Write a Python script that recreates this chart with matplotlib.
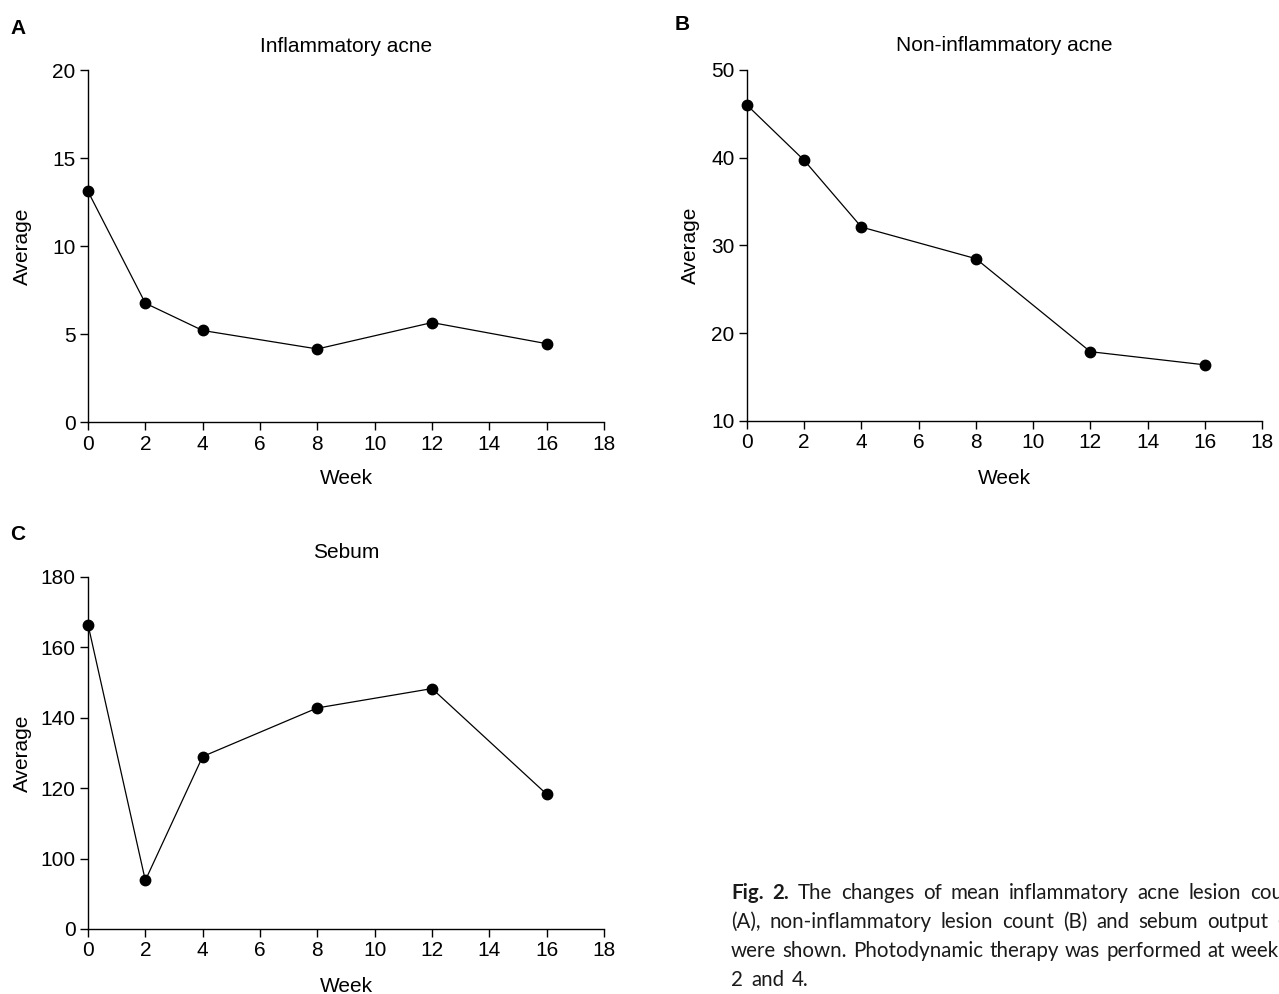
import numpy as np
import matplotlib
matplotlib.use("Agg")
import matplotlib.pyplot as plt

plt.rcParams['font.family'] = ['Liberation Sans', 'DejaVu Sans']

weeks = [0, 2, 4, 8, 12, 16]
inflammatory = [13.1, 6.75, 5.2, 4.15, 5.65, 4.45]
non_inflammatory = [46.0, 39.7, 32.1, 28.5, 17.9, 16.4]
sebum = [166.5, 93.8, 129.0, 142.8, 148.3, 118.3]

x_ticks = list(range(0, 20, 2))
a_yticks = [0, 5, 10, 15, 20]
b_yticks = [10, 20, 30, 40, 50]
c_yticks = [0, 100, 120, 140, 160, 180]

W, H = 1279, 994
fig = plt.figure(figsize=(W / 100, H / 100), dpi=100)
FS = 15

def style(ax, title, yticks, ylim, ylab_px):
    ax.spines['top'].set_visible(False)
    ax.spines['right'].set_visible(False)
    for s in ('left', 'bottom'):
        ax.spines[s].set_linewidth(1.0)
    ax.set_xlim(0, 18)
    ax.set_xticks(x_ticks)
    ax.set_ylim(*ylim)
    ax.set_yticks(yticks)
    ax.tick_params(direction='out', length=6, width=1.0, labelsize=FS, pad=3)
    bb = ax.get_position()
    hpx = bb.height * H
    wpx = bb.width * W
    ax.set_title(title, fontsize=FS, y=1 + 24 / hpx, va='center', pad=0)
    ax.set_xlabel('Week', fontsize=FS, va='center')
    ax.xaxis.set_label_coords(0.5, -57 / hpx)
    ax.set_ylabel('Average', fontsize=FS, va='center')
    ax.yaxis.set_label_coords(ylab_px / wpx, 0.5)

def plot_series(ax, y):
    ax.plot(weeks, y, color='black', lw=0.9, marker='o', ms=7.5, clip_on=False, zorder=3)

axA = fig.add_axes([88 / W, 1 - 422 / H, 516 / W, 352 / H])
plot_series(axA, inflammatory)
style(axA, 'Inflammatory acne', a_yticks, (0, 20), 22 - 88)

axB = fig.add_axes([747 / W, 1 - 421 / H, 515 / W, 351 / H])
plot_series(axB, non_inflammatory)
style(axB, 'Non-inflammatory acne', b_yticks, (10, 50), 690 - 747)

axC = fig.add_axes([88 / W, 1 - 929 / H, 516 / W, 352 / H])

# broken axis: 0..85 compressed into 80..85
def fwd(v):
    v = np.asarray(v, dtype=float)
    return np.where(v >= 85, v, 80 + v * (5 / 85))

def inv(v):
    v = np.asarray(v, dtype=float)
    return np.where(v >= 85, v, (v - 80) * (85 / 5))

axC.set_yscale('function', functions=(fwd, inv))
plot_series(axC, sebum)
style(axC, 'Sebum', c_yticks, (0, 180), 22 - 88)
axC.set_yticklabels([str(t) for t in c_yticks])
axC.yaxis.set_minor_locator(matplotlib.ticker.NullLocator())

for lab, x, y in [('A', 10, 28), ('B', 675, 25), ('C', 10, 535)]:
    fig.text(x / W, 1 - y / H, lab, fontsize=15, fontweight='bold', va='center', ha='left')

# caption, fully justified (the reference crops it at the right edge)
cap_font = ['Lato', 'DejaVu Sans']
cap_lines = [
    [('Fig.', 'bold'), ('2.', 'bold'), ('The', 'normal'), ('changes', 'normal'), ('of', 'normal'),
     ('mean', 'normal'), ('inflammatory', 'normal'), ('acne', 'normal'), ('lesion', 'normal'),
     ('count', 'normal')],
    [(w, 'normal') for w in '(A), non-inflammatory lesion count (B) and sebum output (C)'.split()],
    [(w, 'normal') for w in 'were shown. Photodynamic therapy was performed at week 0,'.split()],
    [(w, 'normal') for w in '2 and 4.'.split()],
]
cap_y = [893, 922, 951, 980]
cap_left, cap_right = 731, 1302
CFS = 14.8
fig.canvas.draw()
r = fig.canvas.get_renderer()
for i, (words, y) in enumerate(zip(cap_lines, cap_y)):
    arts = []
    widths = []
    for txt, w in words:
        t = fig.text(0, 1 - y / H, txt, fontsize=CFS, fontweight=w, family=cap_font,
                     va='center', ha='left', color='#1a1a1a')
        widths.append(t.get_window_extent(renderer=r).width)
        arts.append(t)
    total = sum(widths)
    if i < len(cap_lines) - 1:
        gap = max((cap_right - cap_left - total) / (len(words) - 1), 5)
    else:
        gap = 8
    x = cap_left
    for t, wd in zip(arts, widths):
        t.set_x(x / W)
        x += wd + gap

fig.savefig('out.png', dpi=100)
